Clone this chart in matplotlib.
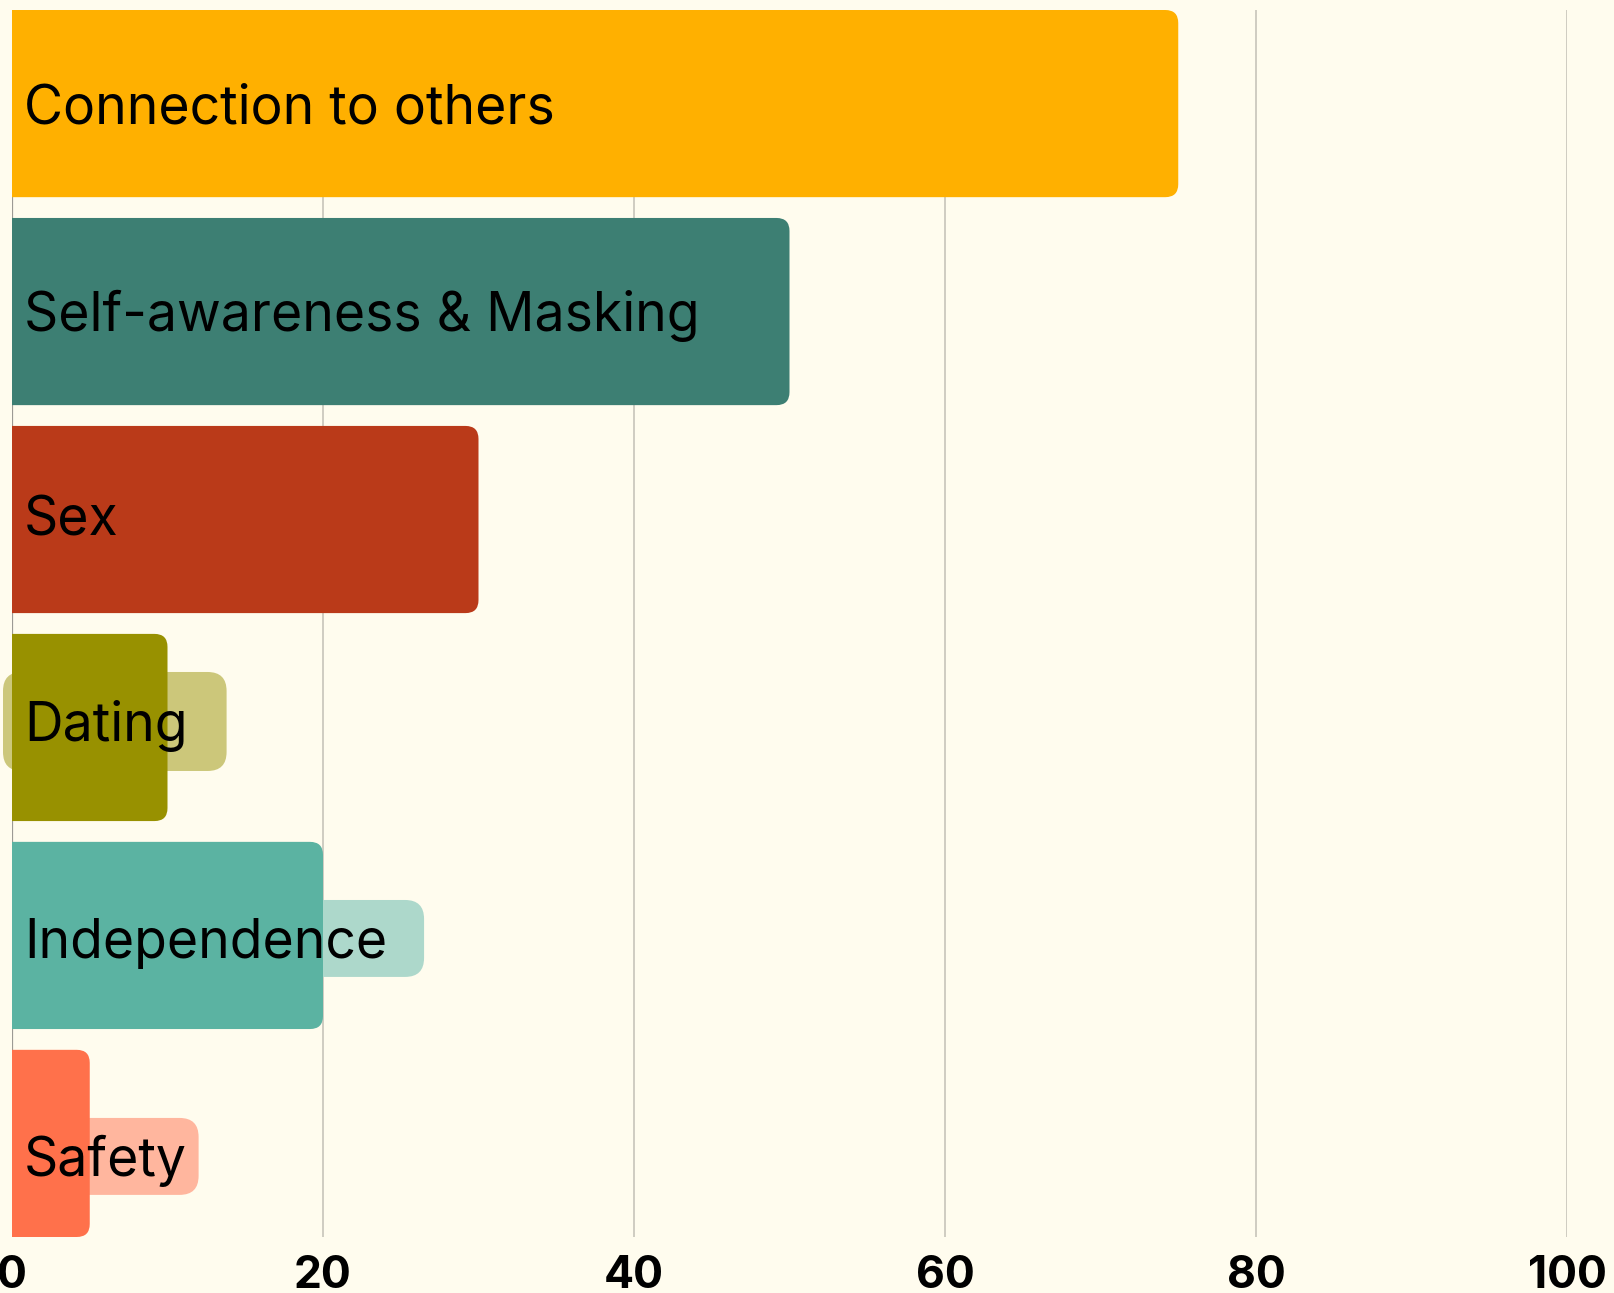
import numpy as np
import matplotlib.pyplot as plt
from matplotlib.patches import FancyBboxPatch

# data
categories = ["Connection to others", "Self-awareness & Masking", "Sex",
              "Dating", "Independence", "Safety"]
values = [75, 50, 30, 10, 20, 5]
# lighter label boxes behind the short bars (0 = none)
box_values = [0, 0, 0, 13.8, 26.5, 12.0]
xticks = [0, 20, 40, 60, 80, 100]

bar_colors = ["#FFB000", "#3D7F73", "#BA3A19", "#989100", "#5BB3A2", "#FF714B"]
box_colors = [None, None, None, "#CCC77A", "#ADD8CB", "#FFB69E"]
# vertical shift of label (pixels, + is down) and label box height (rows)
label_shift = [0, -1, -4, -6, 3, 13]
box_heights = [0, 0, 0, 0.476, 0.37, 0.37]
# only the Dating box pokes out left of the axis
box_left_px = [0, 0, 0, -9, 0, 0]

bg = "#FFFCEE"
label_font = "Inter"
W, H = 1615, 1293
fig = plt.figure(figsize=(W / 100, H / 100), dpi=100, facecolor=bg)
ax_l, ax_b, ax_w, ax_h = 12, 56, 1555, 1227
ax = fig.add_axes([ax_l / W, ax_b / H, ax_w / W, ax_h / H])
ax.set_facecolor(bg)

n = len(categories)
bar_h = 0.9
ax.set_xlim(0, 100)
ax.set_ylim(n - 1 + bar_h / 2, -bar_h / 2)

# pixels per data unit, used to keep the rounded corners circular
px_x = ax_w / 100
px_y = ax_h / (n - 1 + bar_h)
aspect = px_x / px_y

for i in range(n):
    # label box (light)
    if box_values[i] > 0:
        r = 19 / px_x
        x0 = box_left_px[i] / px_x if box_left_px[i] < 0 else -r
        cy = i + label_shift[i] / px_y
        hb = box_heights[i]
        box = FancyBboxPatch((x0, cy - hb / 2), box_values[i] - x0, hb,
                             boxstyle=f"round,pad=0,rounding_size={r}",
                             mutation_aspect=aspect, fc=box_colors[i],
                             ec="none", zorder=2)
        ax.add_patch(box)
        box.set_clip_on(box_left_px[i] >= 0)
    # main bar, left corners cut off by the axes clip
    r = 13 / px_x
    bar = FancyBboxPatch((-r, i - bar_h / 2), values[i] + r, bar_h,
                         boxstyle=f"round,pad=0,rounding_size={r}",
                         mutation_aspect=aspect, fc=bar_colors[i],
                         ec="none", zorder=3)
    ax.add_patch(bar)
    ax.annotate(categories[i], xy=(0, i), xytext=(12, -(20 + label_shift[i])),
                textcoords="offset pixels", va="baseline", ha="left",
                fontsize=38.5, family=label_font, color="black", zorder=4,
                annotation_clip=False)

ax.set_xticks(xticks)
ax.set_yticks([])
ax.grid(axis="x", color="#CBC9BE", lw=1.3, zorder=0)
ax.set_axisbelow(True)
ax.axvline(0, color="#9C9A94", lw=1.6, zorder=1)
for s in ax.spines.values():
    s.set_visible(False)
ax.tick_params(axis="x", length=0, pad=13, labelsize=32)
for lab in ax.get_xticklabels():
    lab.set_fontfamily(label_font)
    lab.set_fontweight("bold")

fig.savefig("out.png", dpi=100, facecolor=bg)
